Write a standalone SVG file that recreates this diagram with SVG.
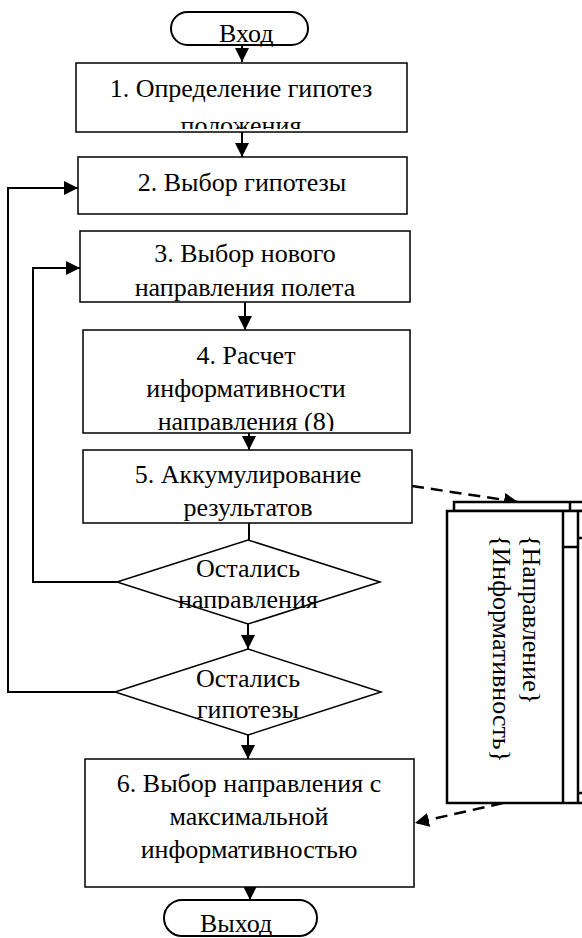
<svg xmlns="http://www.w3.org/2000/svg" width="582" height="938" viewBox="0 0 582 938">
<style>
.box{fill:#fff;stroke:#000;stroke-width:1.5}
.term{fill:#fff;stroke:#000;stroke-width:2}
.t{font-family:"Liberation Serif","Times New Roman",serif;font-size:26px;fill:#000;text-anchor:middle}
.c{fill:none;stroke:#000;stroke-width:2}
.d{fill:none;stroke:#000;stroke-width:2.5;stroke-dasharray:12 7}
.st{fill:#fff;stroke:#000;stroke-width:2.5}
</style>
<defs>
<marker id="a" markerUnits="userSpaceOnUse" markerWidth="14" markerHeight="16" refX="14" refY="7" orient="auto"><path d="M0,0 L14,7 L0,14 Z" fill="#000"/></marker>
<clipPath id="k1"><rect x="76" y="63" width="331" height="66"/></clipPath>
<clipPath id="k4"><rect x="83" y="330" width="327" height="101"/></clipPath>
<clipPath id="k5"><rect x="83" y="450" width="329" height="71"/></clipPath>
<clipPath id="kd1"><rect x="100" y="530" width="300" height="79"/></clipPath>
<clipPath id="kd2"><rect x="100" y="640" width="300" height="80"/></clipPath>
</defs>
<g id="connectors">
<path class="c" d="M242,45 V62" marker-end="url(#a)"/>
<path class="c" d="M242,132 V157" marker-end="url(#a)"/>
<path class="c" d="M245,302 V330" marker-end="url(#a)"/>
<path class="c" d="M249,433 V450" marker-end="url(#a)"/>
<path class="c" d="M249,523 V540"/>
<path class="c" d="M248,624 V649" marker-end="url(#a)"/>
<path class="c" d="M248,735 V759" marker-end="url(#a)"/>
<path class="c" d="M250,887 V900" marker-end="url(#a)"/>
<path class="c" d="M117,582 H33 V268 H80" marker-end="url(#a)"/>
<path class="c" d="M115,692 H8 V188 H78" marker-end="url(#a)"/>
<path class="d" d="M412,486 L518,502" marker-end="url(#a)"/>
<path class="d" d="M503,803 L415,823" marker-end="url(#a)"/>
</g>
<g id="entry"><rect class="term" x="171" y="12" width="137" height="33" rx="16.5"/><text class="t" x="219" y="42" style="text-anchor:start">Вход</text></g>
<g id="n1"><rect class="box" x="76" y="63" width="331" height="69"/><g clip-path="url(#k1)"><text class="t" x="241" y="97">1. Определение гипотез</text><text class="t" x="241" y="134">положения</text></g></g>
<g id="n2"><rect class="box" x="78" y="157" width="329" height="57"/><text class="t" x="242" y="191">2. Выбор гипотезы</text></g>
<g id="n3"><rect class="box" x="80" y="231" width="330" height="71"/><text class="t" x="245" y="262">3. Выбор нового</text><text class="t" x="245" y="296">направления полета</text></g>
<g id="n4"><rect class="box" x="83" y="330" width="327" height="103"/><g clip-path="url(#k4)"><text class="t" x="246" y="364">4. Расчет</text><text class="t" x="246" y="397">информативности</text><text class="t" x="246" y="430">направления (8)</text></g></g>
<g id="n5"><rect class="box" x="83" y="450" width="329" height="73"/><g clip-path="url(#k5)"><text class="t" x="248" y="483">5. Аккумулирование</text><text class="t" x="248" y="516">результатов</text></g></g>
<g id="d1"><polygon class="box" points="117,582 248,540 380,582 248,624"/><g clip-path="url(#kd1)"><text class="t" x="248" y="577">Остались</text><text class="t" x="248" y="608">направления</text></g></g>
<g id="d2"><polygon class="box" points="115,692 248,649 381,692 248,735"/><g clip-path="url(#kd2)"><text class="t" x="248" y="687">Остались</text><text class="t" x="248" y="718">гипотезы</text></g></g>
<g id="n6"><rect class="box" x="85" y="759" width="329" height="128"/><text class="t" x="249" y="792">6. Выбор направления с</text><text class="t" x="249" y="825">максимальной</text><text class="t" x="249" y="858">информативностью</text></g>
<g id="exit"><rect class="term" x="164" y="900" width="153" height="36" rx="18"/><text class="t" x="200" y="932" style="text-anchor:start">Выход</text></g>
<g id="store">
<rect class="st" x="454" y="502" width="140" height="9"/>
<line class="st" x1="570" y1="502" x2="570" y2="511"/>
<rect class="st" x="447" y="511" width="150" height="292"/>
<line class="st" x1="563" y1="511" x2="563" y2="803"/>
<line class="st" x1="578" y1="511" x2="578" y2="803"/>
<line class="st" x1="563" y1="547" x2="578" y2="547"/>
<line class="st" x1="578" y1="538" x2="584" y2="538"/>
<line class="st" x1="578" y1="793" x2="584" y2="793"/>
<text class="t" transform="translate(523,535) rotate(90)" style="text-anchor:start">{Направление}</text>
<text class="t" transform="translate(493,535) rotate(90)" style="text-anchor:start">{Информативность}</text>
</g>
</svg>
